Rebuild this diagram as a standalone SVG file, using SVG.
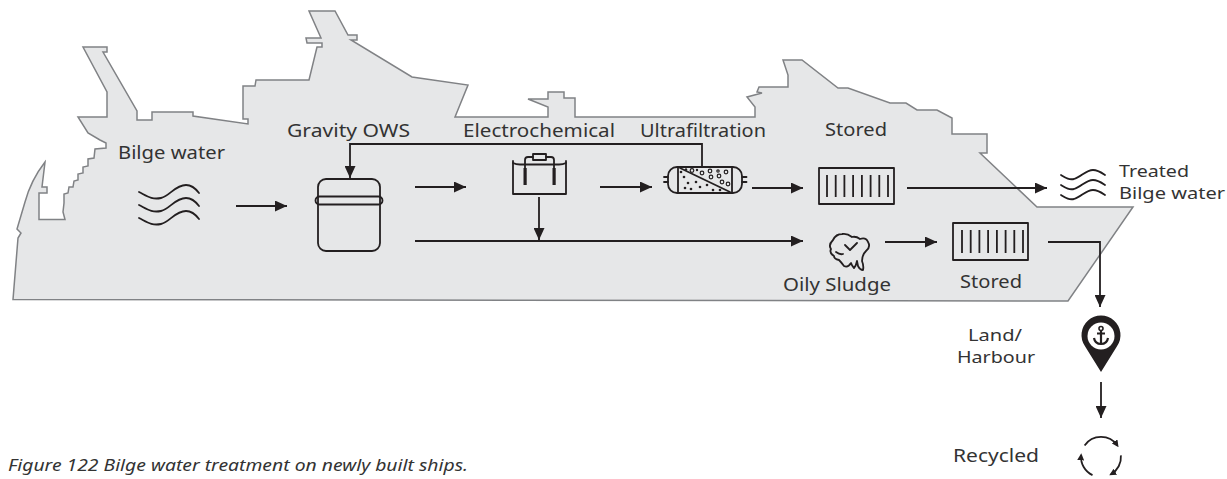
<svg xmlns="http://www.w3.org/2000/svg" width="1227" height="479" viewBox="0 0 1227 479">
  <style>
    .hull { fill: #e6e7e8; stroke: #808285; stroke-width: 1.5; stroke-linejoin: miter; }
    .ln { fill: none; stroke: #231f20; stroke-width: 1.8; }
    .arr { fill: none; stroke: #231f20; stroke-width: 1.8; marker-end: url(#head); }
    .ico { fill: none; stroke: #231f20; stroke-width: 1.8; stroke-linejoin: round; stroke-linecap: round; }
    .lbl { font-family: "Noto Sans", "DejaVu Sans", sans-serif; font-size: 18.5px; fill: #333333; }
    .lbl2 { font-family: "Noto Sans", "DejaVu Sans", sans-serif; font-size: 17px; fill: #333333; }
    .cap { font-family: "Noto Sans", "DejaVu Sans", sans-serif; font-size: 17px; font-style: italic; fill: #333333; }
  </style>
  <defs>
    <marker id="head" markerUnits="userSpaceOnUse" markerWidth="12" markerHeight="11" viewBox="0 0 12 11" refX="12" refY="5.5" orient="auto">
      <path d="M0,0 L12,5.5 L0,11 Z" fill="#231f20"/>
    </marker>
    <marker id="small" markerUnits="userSpaceOnUse" markerWidth="7" markerHeight="7" viewBox="0 0 7 7" refX="5" refY="3.5" orient="auto">
      <path d="M0,0 L7,3.5 L0,7 Z" fill="#231f20"/>
    </marker>
  </defs>

  <!-- ship silhouette -->
  <g id="ship">
    <path class="hull" d="M13,299.5 L18,238 L21,233 L17,229 L25,202 Q31,180 45,162 L42,187 L47,187 L47,193 L39,193 L39,219.5 L65,219.5 L63,212 L64,203 L64,194 L68,193 L69,187 L73,187 L74,181 L78,180 L78,174 L83,173 L83,167 L88,166 L88,159 L94,158 L95,149 L106,148 L106,143 L100,140 L88,133 L78,117 L107,117 L107,92 L83,47 L107,47 L107,52 L103,52 L137,111 L137,120 L152,120 L152,112 L193,112 L193,116 L248,124 L248,119 L243,119 L243,86 L255,86 L256,80 L309,80 L317,47 L322,47 L322,43 L307,43 L306,38 L321,38 L309,11 L335,11 L348,35 L357,35 L357,40 L351,40 L412,77 L468,85 L455,117 L548,117 L548,107 L528,99 L548,99 L548,92 L564,92 L564,98 L575,98 L575,117 L755,117 L755,107 L747,97 L762,93 L757,92 L759,87 L788,87 L788,75 L783,60 L802,60 L838,88 L848,88 L890,103 L906,103 L917,110 L937,110 L952,118 L952,134 L987,134 L987,153 L980,153 L1037,207 L1133,207 L1068,301 Z"/>
  </g>

  <!-- connectors -->
  <g id="connectors">
    <line class="arr" x1="236" y1="206" x2="287" y2="206"/>
    <line class="arr" x1="415" y1="187" x2="466" y2="187"/>
    <line class="arr" x1="600" y1="187" x2="652" y2="187"/>
    <line class="arr" x1="752" y1="188" x2="803" y2="188"/>
    <line class="arr" x1="907" y1="188" x2="1047" y2="188"/>
    <line class="arr" x1="415" y1="241" x2="803" y2="241"/>
    <line class="arr" x1="539" y1="197" x2="539" y2="240"/>
    <polyline class="arr" points="702,167 702,144 350,144 350,178"/>
    <line class="arr" x1="885" y1="242" x2="937" y2="242"/>
    <polyline class="arr" points="1048,242 1100,242 1100,307"/>
    <line class="arr" x1="1101" y1="382" x2="1101" y2="418"/>
  </g>

  <!-- bilge water source -->
  <g id="bilge-water">
    <text class="lbl" x="118" y="159" textLength="107" lengthAdjust="spacingAndGlyphs">Bilge water</text>
    <path class="ico" d="M139,192 C147,196 152,200 161,198 C170,196 175,185 186,185 C192,185 196,189 199,193"/>
    <path class="ico" d="M139,205 C147,209 152,213 161,211 C170,209 175,198 186,198 C192,198 196,202 199,206"/>
    <path class="ico" d="M139,218 C147,222 152,226 161,224 C170,222 175,211 186,211 C192,211 196,215 199,219"/>
  </g>

  <!-- gravity oily water separator -->
  <g id="gravity-ows">
    <text class="lbl" x="287" y="137" textLength="123" lengthAdjust="spacingAndGlyphs">Gravity OWS</text>
    <rect class="ico" x="318" y="179" width="62" height="72" rx="8"/>
    <rect class="ico" x="315.5" y="196.5" width="67" height="8" rx="4" fill="#e6e7e8"/>
  </g>

  <!-- electrochemical cell -->
  <g id="electrochemical">
    <text class="lbl" x="463" y="137" textLength="152" lengthAdjust="spacingAndGlyphs">Electrochemical</text>
    <path class="ico" d="M513,161 V194 H566 V161"/>
    <path class="ico" stroke-width="1.2" d="M513,163 Q516,164.5 520,164.5 H559 Q563,164.5 566,163"/>
    <rect x="523.5" y="168" width="3.2" height="17" fill="#231f20"/>
    <rect x="552.5" y="168" width="3.2" height="17" fill="#231f20"/>
    <path class="ico" stroke-width="1.4" d="M525,168 V160 Q525,157 528,157 H533 M546,157 H551 Q554,157 554,160 V168"/>
    <rect class="ico" stroke-width="1.4" x="533" y="154" width="13" height="6"/>
  </g>

  <!-- ultrafiltration membrane -->
  <g id="ultrafiltration">
    <text class="lbl" x="640" y="137" textLength="126" lengthAdjust="spacingAndGlyphs">Ultrafiltration</text>
    <rect class="ico" x="668" y="167" width="74" height="26" rx="9"/>
    <path class="ico" d="M678,167 V193 M732,167 V193 M680,168 L730,192"/>
    <path class="ico" stroke-width="1.3" d="M664,177 H668 M664,182 H668 M742,177 H746.5 M742,182 H746.5"/>
    <g fill="none" stroke="#231f20" stroke-width="1.2">
      <circle cx="692" cy="170.5" r="1.8"/>
      <circle cx="702" cy="173" r="1.8"/>
      <circle cx="710" cy="171" r="1.8"/>
      <circle cx="711" cy="177" r="1.8"/>
      <circle cx="719" cy="176" r="1.8"/>
      <circle cx="726" cy="172" r="1.8"/>
      <circle cx="722" cy="182" r="1.8"/>
      <circle cx="728" cy="184" r="1.8"/>
      <circle cx="718" cy="171" r="1.2"/>
    </g>
    <g fill="#231f20">
      <circle cx="681" cy="172" r="1.3"/>
      <circle cx="684" cy="177" r="1.3"/>
      <circle cx="688" cy="183" r="1.3"/>
      <circle cx="685" cy="188" r="1.3"/>
      <circle cx="691" cy="189" r="1.3"/>
      <circle cx="696" cy="182" r="1.3"/>
      <circle cx="700" cy="187" r="1.3"/>
      <circle cx="707" cy="185" r="1.3"/>
      <circle cx="713" cy="190" r="1.3"/>
      <circle cx="720" cy="190" r="1.3"/>
      <circle cx="697" cy="170" r="1.2"/>
      <circle cx="686" cy="169.5" r="1.2"/>
    </g>
  </g>

  <!-- storage tank for treated water -->
  <g id="stored-treated">
    <text class="lbl" x="825" y="136" textLength="62" lengthAdjust="spacingAndGlyphs">Stored</text>
    <rect class="ico" stroke-linejoin="miter" x="819" y="168" width="75" height="36"/>
    <path class="ln" stroke-width="2" d="M827,175 V197 M835.7,175 V197 M844.4,175 V197 M853.1,175 V197 M861.9,175 V197 M870.6,175 V197 M879.3,175 V197 M888,175 V197"/>
  </g>

  <!-- treated bilge water discharge -->
  <g id="treated-bilge-water">
    <path class="ico" stroke-width="1.6" d="M1061,175 C1066,178 1069,180 1074,179 C1081,177 1086,170 1093,170 C1098,170 1102,173 1105,175"/>
    <path class="ico" stroke-width="1.6" d="M1061,185 C1066,188 1069,190 1074,189 C1081,187 1086,180 1093,180 C1098,180 1102,183 1105,185"/>
    <path class="ico" stroke-width="1.6" d="M1061,195 C1066,198 1069,200 1074,199 C1081,197 1086,190 1093,190 C1098,190 1102,193 1105,195"/>
    <text class="lbl2" x="1119" y="177" textLength="70" lengthAdjust="spacingAndGlyphs">Treated</text>
    <text class="lbl2" x="1119" y="199" textLength="106" lengthAdjust="spacingAndGlyphs">Bilge water</text>
  </g>

  <!-- oily sludge -->
  <g id="oily-sludge">
    <path class="ico" stroke-width="1.6" d="M833,240 Q836,234 842,234 Q847,233 852,237 Q856,236 860,239 Q866,237 868,242 Q871,247 866,251 Q862,255 862,261 Q864,266 863,270 Q860,270 858,266 L857,261 Q856,266 854,268 Q852,266 851,263 Q848,268 844,266 Q841,262 839,260 Q834,259 834,256 Q829,253 831,249 Q828,245 833,240 Z"/>
    <path class="ico" stroke-width="1.5" d="M845,245 L850,250 L857,243 M836,252 Q840,255 843,254"/>
    <text class="lbl" x="783" y="291" textLength="108" lengthAdjust="spacingAndGlyphs">Oily Sludge</text>
  </g>

  <!-- storage tank for sludge -->
  <g id="stored-sludge">
    <rect class="ico" stroke-linejoin="miter" x="953" y="223" width="75" height="37"/>
    <path class="ln" stroke-width="2" d="M962,230 V253 M970.7,230 V253 M979.4,230 V253 M988.1,230 V253 M996.9,230 V253 M1005.6,230 V253 M1014.3,230 V253 M1023,230 V253"/>
    <text class="lbl" x="960" y="288" textLength="62" lengthAdjust="spacingAndGlyphs">Stored</text>
  </g>

  <!-- discharge at harbour -->
  <g id="land-harbour">
    <text class="lbl2" x="968" y="341" textLength="54" lengthAdjust="spacingAndGlyphs">Land/</text>
    <text class="lbl2" x="957" y="363" textLength="78" lengthAdjust="spacingAndGlyphs">Harbour</text>
    <path d="M1101,372 L1085,346.2 A19.5,19.5 0 1 1 1117,346.2 Z" fill="#231f20"/>
    <circle cx="1101" cy="336" r="13.5" fill="#ffffff"/>
    <circle cx="1101" cy="328.5" r="2" fill="none" stroke="#231f20" stroke-width="1.6"/>
    <path d="M1101,330.5 V343.5 M1097,333.5 H1105" fill="none" stroke="#231f20" stroke-width="2.2"/>
    <path d="M1094,338 Q1095,344 1101,344 Q1107,344 1108,338" fill="none" stroke="#231f20" stroke-width="2.2"/>
  </g>

  <!-- recycling -->
  <g id="recycled">
    <text class="lbl" x="953" y="462" textLength="86" lengthAdjust="spacingAndGlyphs">Recycled</text>
    <path class="ln" stroke-width="1.8" marker-end="url(#small)" d="M1084.6,445.5 A20,20 0 0 1 1117.4,445.5"/>
    <path class="ln" stroke-width="1.8" marker-end="url(#small)" d="M1120.9,455.3 A20,20 0 0 1 1111,474.3"/>
    <path class="ln" stroke-width="1.8" marker-end="url(#small)" d="M1092.5,475.1 A20,20 0 0 1 1081.1,455.3"/>
  </g>

  <!-- caption -->
  <text class="cap" x="8" y="471" textLength="460" lengthAdjust="spacingAndGlyphs">Figure 122 Bilge water treatment on newly built ships.</text>
</svg>
